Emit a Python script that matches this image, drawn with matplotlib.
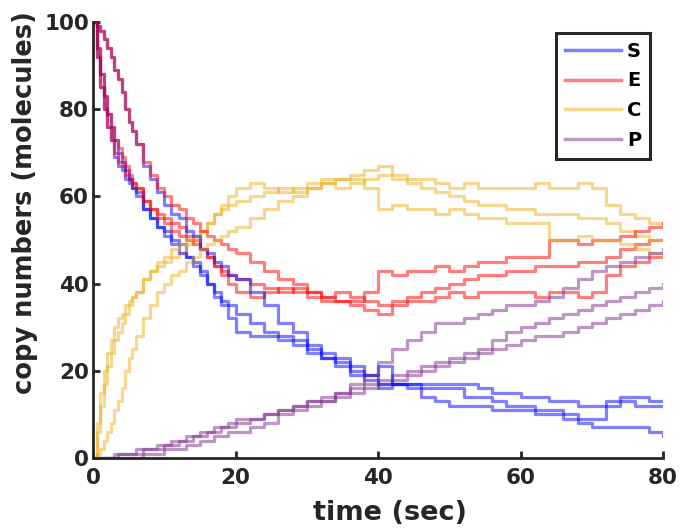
import numpy as np
import matplotlib.pyplot as plt

# sample times (sec), shared by all runs
t = [0, 0.5, 1, 1.5, 2, 2.5, 3, 3.5, 4, 4.5, 5, 5.5, 6,
     7, 8, 9, 10, 11, 12, 13, 14, 15, 16, 17, 18, 19, 20,
     22, 24, 26, 28, 30, 32, 34, 36, 38, 40, 42, 44, 46, 48, 50,
     52, 54, 56, 58, 60, 62, 64, 66, 68, 70, 72, 74, 76, 78, 80]

# run 1
S1 = [100, 92, 85, 80, 76, 73, 69, 67, 66, 64, 63, 62, 60,
      57, 55, 53, 52, 50, 49, 46, 45, 42, 40, 37, 35, 32, 29,
      28, 28, 28, 26, 24, 23, 22, 20, 18, 16, 17, 17, 16, 16, 16,
      14, 14, 13, 12, 12, 11, 11, 10, 9, 9, 12, 13, 12, 12, 12]
E1 = [100, 92, 85, 80, 76, 73, 70, 68, 67, 65, 64, 63, 62,
      59, 57, 56, 55, 54, 53, 51, 50, 48, 46, 44, 42, 40, 38,
      37, 38, 39, 38, 37, 36, 36, 35, 34, 33, 35, 36, 36, 37, 38,
      37, 38, 38, 38, 38, 37, 38, 38, 37, 38, 42, 44, 45, 46, 46]
C1 = [0, 8, 15, 20, 24, 27, 30, 32, 33, 35, 36, 37, 38,
      41, 43, 44, 45, 46, 47, 49, 50, 52, 54, 56, 58, 60, 62,
      63, 62, 61, 62, 63, 64, 64, 65, 66, 67, 65, 64, 64, 63, 62,
      63, 62, 62, 62, 62, 63, 62, 62, 63, 62, 58, 56, 55, 54, 54]
P1 = [0, 0, 0, 0, 0, 0, 1, 1, 1, 1, 1, 1, 2,
      2, 2, 3, 3, 4, 4, 5, 5, 6, 6, 7, 7, 8, 9,
      9, 10, 11, 12, 13, 13, 14, 15, 16, 17, 18, 19, 20, 21, 22,
      23, 24, 25, 26, 27, 28, 28, 29, 30, 31, 32, 33, 34, 35, 36]

# run 2
S2 = [100, 94, 88, 83, 79, 76, 73, 70, 68, 66, 64, 62, 61,
      57, 55, 53, 51, 49, 47, 46, 44, 43, 40, 38, 36, 35, 33,
      31, 29, 27, 27, 25, 23, 23, 21, 19, 17, 17, 17, 17, 17, 17,
      17, 16, 15, 15, 14, 14, 13, 13, 12, 12, 13, 14, 14, 13, 13]
E2 = [100, 94, 88, 83, 79, 76, 73, 71, 69, 67, 65, 63, 62,
      59, 57, 55, 54, 52, 51, 50, 49, 48, 46, 44, 43, 42, 41,
      40, 39, 38, 39, 38, 37, 38, 37, 36, 35, 36, 37, 38, 39, 40,
      41, 42, 42, 43, 43, 44, 44, 44, 45, 45, 46, 48, 49, 50, 50]
C2 = [0, 6, 12, 17, 21, 24, 27, 29, 31, 33, 35, 37, 38,
      41, 43, 45, 46, 48, 49, 50, 51, 52, 54, 56, 57, 58, 59,
      60, 61, 62, 61, 62, 63, 62, 63, 64, 65, 64, 63, 62, 61, 60,
      59, 58, 58, 57, 57, 56, 56, 56, 55, 55, 54, 52, 51, 50, 50]
P2 = [0, 0, 0, 0, 0, 0, 0, 1, 1, 1, 1, 1, 1,
      2, 2, 2, 3, 3, 4, 4, 5, 5, 6, 6, 7, 7, 8,
      9, 10, 11, 12, 13, 14, 15, 16, 17, 18, 19, 20, 21, 22, 23,
      24, 25, 27, 29, 30, 31, 32, 33, 34, 35, 36, 37, 38, 39, 40]

# run 3
S3 = [100, 99, 98, 96, 94, 92, 89, 87, 84, 80, 77, 75, 72,
      67, 64, 61, 58, 56, 55, 52, 51, 48, 47, 45, 44, 42, 41,
      38, 35, 31, 29, 26, 24, 21, 19, 19, 21, 17, 16, 14, 13, 12,
      12, 12, 11, 11, 11, 10, 10, 9, 8, 7, 7, 7, 7, 6, 5]
E3 = [100, 99, 98, 96, 94, 92, 89, 87, 84, 80, 77, 75, 72,
      68, 65, 62, 60, 58, 57, 55, 54, 52, 51, 50, 49, 48, 47,
      45, 43, 41, 40, 38, 37, 36, 36, 38, 43, 42, 43, 43, 44, 43,
      44, 45, 45, 46, 46, 46, 50, 50, 49, 50, 50, 51, 52, 53, 54]
C3 = [0, 1, 2, 4, 6, 8, 11, 13, 16, 20, 23, 25, 28,
      32, 35, 38, 40, 42, 43, 45, 46, 48, 49, 50, 51, 52, 53,
      55, 57, 59, 60, 62, 63, 64, 64, 62, 57, 58, 57, 57, 56, 57,
      56, 55, 55, 54, 54, 54, 50, 50, 51, 50, 50, 49, 48, 47, 46]
P3 = [0, 0, 0, 0, 0, 0, 0, 0, 0, 0, 0, 0, 0,
      1, 1, 1, 2, 2, 2, 3, 3, 4, 4, 5, 5, 6, 6,
      7, 8, 10, 11, 12, 13, 15, 17, 19, 22, 25, 27, 29, 31, 31,
      32, 33, 34, 35, 35, 36, 37, 39, 41, 43, 44, 45, 46, 47, 48]

species = ['S', 'E', 'C', 'P']
runs = [[S1, E1, C1, P1], [S2, E2, C2, P2], [S3, E3, C3, P3]]
colors = [(0, 0, 1), (1, 0, 0), (0.929, 0.694, 0.125), (0.494, 0.184, 0.556)]

ink = '#262626'
plt.rcParams['font.family'] = 'DejaVu Sans'
plt.rcParams['font.weight'] = 'bold'

fig = plt.figure(figsize=(6.85, 5.31), dpi=100)
ax = fig.add_axes([93 / 685, 73 / 531, 570 / 685, 436 / 531])

for r, run in enumerate(runs):
    for k, vals in enumerate(run):
        ax.plot(t, vals, drawstyle='steps-post', color=colors[k], alpha=0.5,
                lw=2.3, label=species[k] if r == 0 else None)

ax.set_xlim(0, 80)
ax.set_ylim(0, 100)
ax.set_xticks([0, 20, 40, 60, 80])
ax.set_yticks([0, 20, 40, 60, 80, 100])
ax.spines['top'].set_visible(False)
ax.spines['right'].set_visible(False)
for s in ['left', 'bottom']:
    ax.spines[s].set_linewidth(2.0)
    ax.spines[s].set_color(ink)
ax.tick_params(direction='in', length=5, width=2.0, colors=ink, labelsize=15.5)
ax.tick_params(axis='x', pad=7)
ax.tick_params(axis='y', pad=3)
for lab in ax.get_xticklabels() + ax.get_yticklabels():
    lab.set_fontweight('bold')

ax.set_xlabel('time (sec)', fontsize=19.5, fontweight='bold', color=ink)
ax.set_ylabel('copy numbers (molecules)', fontsize=18.5, fontweight='bold', color=ink)
ax.xaxis.set_label_coords(0.521, -0.096)
ax.yaxis.set_label_coords(-0.097, 0.585)

leg = ax.legend(loc='upper right', bbox_to_anchor=(650 / 685, 1 - 33 / 531),
                bbox_transform=fig.transFigure, borderaxespad=0,
                fancybox=False, frameon=True, framealpha=1,
                prop={'weight': 'bold', 'size': 14},
                handlelength=2.9, handletextpad=0.3, labelspacing=0.55,
                borderpad=0.45)
leg.get_frame().set_edgecolor(ink)
leg.get_frame().set_linewidth(2.2)
for h in leg.get_lines():
    h.set_linewidth(2.5)

fig.savefig('out.png', dpi=100)
